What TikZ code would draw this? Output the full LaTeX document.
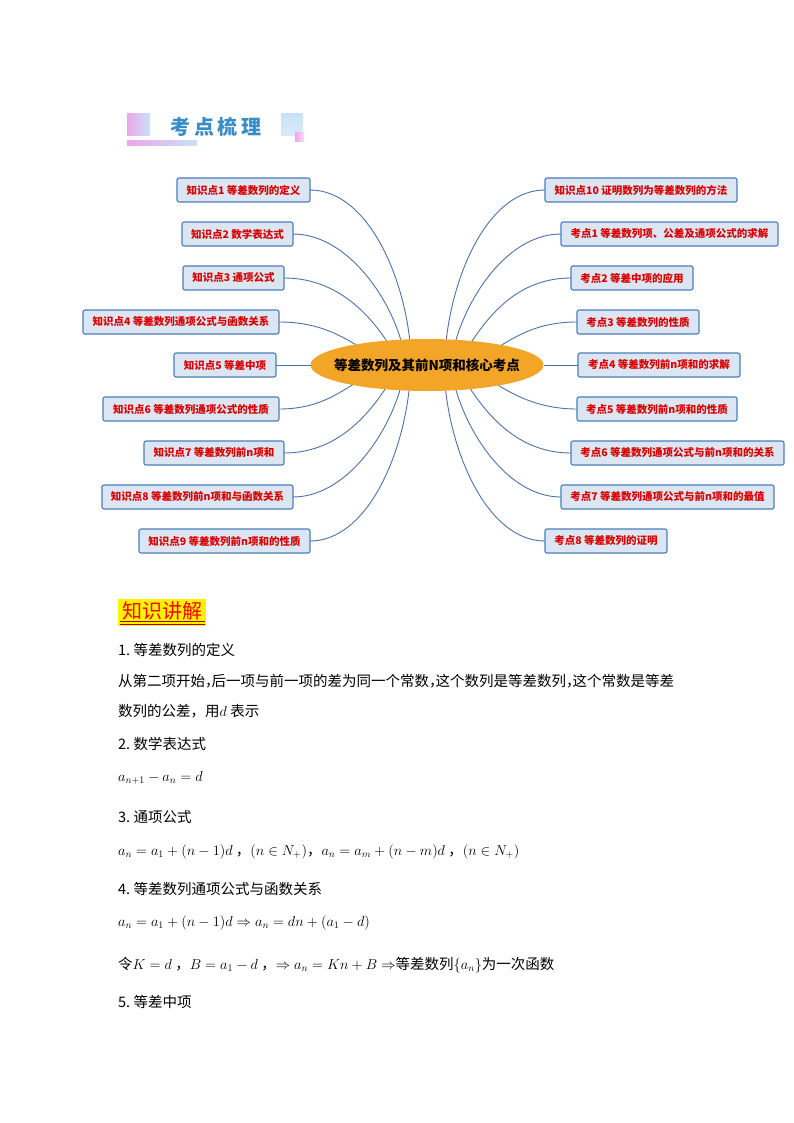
\documentclass[tikz,border=0pt]{standalone}
\usepackage{fontspec}
\newfontfamily\cjk{Noto Sans CJK SC}
\usetikzlibrary{shapes.geometric}
\definecolor{boxfill}{HTML}{DCE6F2}
\definecolor{boxdraw}{HTML}{4A7EBB}
\definecolor{boxtext}{HTML}{D80000}
\definecolor{linkc}{HTML}{4F72A6}
\definecolor{hubc}{HTML}{F3A528}
\definecolor{titleblue}{HTML}{3A8CC8}
\definecolor{pinkc}{HTML}{EDA6E8}
\definecolor{lblue}{HTML}{C8E2F8}
\definecolor{darkred}{HTML}{A00000}
\newcommand\narrowcomma{\makebox[6.5pt][l]{，}}
\begin{document}
\begin{tikzpicture}[x=1pt,y=-1pt,
  topic/.style={draw=boxdraw, line width=1.1pt, fill=boxfill, rounded corners=2pt,
    minimum height=24pt, inner sep=0pt, outer sep=0pt, text=boxtext,
    font=\cjk\bfseries\fontsize{10.5}{12}\selectfont},
  hubnode/.style={ellipse, fill=hubc, minimum width=233pt, minimum height=52pt,
    inner sep=0pt, outer sep=0pt, font=\cjk\bfseries\fontsize{13.5}{15}\selectfont},
  linkst/.style={draw=linkc, line width=0.9pt},
  body/.style={anchor=base west, inner sep=0pt, font=\cjk\fontsize{14.5}{17}\selectfont}
]
\fill[white] (0,0) rectangle (794,1123);
\useasboundingbox (0,0) rectangle (794,1123);

% header decoration
\shade[left color=pinkc, right color=lblue] (127,114) rectangle (150,136);
\shade[left color=pinkc, right color=lblue] (127,141) rectangle (197,146);
\shade[top color=lblue, bottom color=lblue!70!white] (281,114) rectangle (303,136);
\shade[left color=pinkc, right color=pinkc!40!white] (295,133) rectangle (304,142);
\node[text=titleblue, inner sep=0pt, font=\cjk\bfseries\fontsize{20}{22}\selectfont] (title) at (216,126.5) {考\hspace{3.5pt}点\hspace{3.5pt}梳\hspace{3.5pt}理};

% hub
\node[hubnode] (c) at (427,365) {\makebox[0pt]{等差数列及其前N项和核心考点}};

% left topics
\node[topic, minimum width=133pt] (k1) at (243.5,190) {知识点1 等差数列的定义};
\node[topic, minimum width=111pt] (k2) at (237.5,234) {知识点2 数学表达式};
\node[topic, minimum width=101pt] (k3) at (233.5,278) {知识点3 通项公式};
\node[topic, minimum width=196pt] (k4) at (181,322) {知识点4 等差数列通项公式与函数关系};
\node[topic, minimum width=102pt] (k5) at (225,365) {知识点5 等差中项};
\node[topic, minimum width=176pt] (k6) at (191,409) {知识点6 等差数列通项公式的性质};
\node[topic, minimum width=140pt] (k7) at (214,453) {知识点7 等差数列前n项和};
\node[topic, minimum width=191pt] (k8) at (197.5,497) {知识点8 等差数列前n项和与函数关系};
\node[topic, minimum width=171pt] (k9) at (224.5,541) {知识点9 等差数列前n项和的性质};

% right topics
\node[topic, minimum width=192pt] (r1) at (641,190) {知识点10 证明数列为等差数列的方法};
\node[topic, minimum width=217pt] (r2) at (669.5,234) {考点1 等差数列项、公差及通项公式的求解};
\node[topic, minimum width=122pt] (r3) at (632,278) {考点2 等差中项的应用};
\node[topic, minimum width=122pt] (r4) at (638,322) {考点3 等差数列的性质};
\node[topic, minimum width=162pt] (r5) at (659,365) {考点4 等差数列前n项和的求解};
\node[topic, minimum width=160pt] (r6) at (657,409) {考点5 等差数列前n项和的性质};
\node[topic, minimum width=213pt] (r7) at (677.5,453) {考点6 等差数列通项公式与前n项和的关系};
\node[topic, minimum width=213pt] (r8) at (667.5,497) {考点7 等差数列通项公式与前n项和的最值};
\node[topic, minimum width=122pt] (r9) at (606,541) {考点8 等差数列的证明};

% left connectors
\draw[linkst] (k1.east) .. controls +(55,0) and +(-8,-70) .. (c.124.7);
\draw[linkst] (k2.east) .. controls +(50,0) and +(-15,-50) .. (c.136.9);
\draw[linkst] (k3.east) .. controls +(50,0) and +(-20,-30) .. (c.149.3);
\draw[linkst] (k4.east) .. controls +(35,0) and +(-20,-12) .. (c.164.2);
\draw[linkst] (k5.east) -- (c.west);
\draw[linkst] (k6.east) .. controls +(35,0) and +(-20,12) .. (c.195.8);
\draw[linkst] (k7.east) .. controls +(50,0) and +(-20,30) .. (c.210.7);
\draw[linkst] (k8.east) .. controls +(50,0) and +(-15,50) .. (c.223.1);
\draw[linkst] (k9.east) .. controls +(55,0) and +(-8,70) .. (c.235.3);

% right connectors
\draw[linkst] (r1.west) .. controls +(-55,0) and +(8,-70) .. (c.53.5);
\draw[linkst] (r2.west) .. controls +(-50,0) and +(15,-50) .. (c.41);
\draw[linkst] (r3.west) .. controls +(-50,0) and +(20,-30) .. (c.28.7);
\draw[linkst] (r4.west) .. controls +(-35,0) and +(20,-12) .. (c.15.5);
\draw[linkst] (r5.west) -- (c.east);
\draw[linkst] (r6.west) .. controls +(-35,0) and +(20,12) .. (c.344.5);
\draw[linkst] (r7.west) .. controls +(-50,0) and +(20,30) .. (c.331.3);
\draw[linkst] (r8.west) .. controls +(-50,0) and +(15,50) .. (c.319);
\draw[linkst] (r9.west) .. controls +(-55,0) and +(8,70) .. (c.306.5);

% section heading
\fill[yellow] (118,599) rectangle (206,626);
\node[text=red, inner sep=0pt, font=\cjk\fontsize{20}{22}\selectfont] (head) at (162,611) {知识讲解};
\draw[darkred, line width=0.7pt] (120,621.5) -- (205,621.5);
\draw[darkred, line width=0.7pt] (120,624.3) -- (205,624.3);

% body text
\node[body] (t1) at (118,655.5) {1.\ 等差数列的定义};
\node[body] (t2) at (118,686.5) {从第二项开始\narrowcomma 后一项与前一项的差为同一个常数\narrowcomma 这个数列是等差数列\narrowcomma 这个常数是等差};
\node[body] (t3) at (118,716.5) {数列的公差，用$d$\ 表示};
\node[body] (t4) at (118,749.5) {2.\ 数学表达式};
\node[body] (f1) at (118,781) {$a_{n+1}-a_n=d$};
\node[body] (t5) at (118,822.5) {3.\ 通项公式};
\node[body] (f2) at (118,855) {$a_n=a_1+(n-1)d$\ ，$(n\in N_+)$，$a_n=a_m+(n-m)d$\ ，$(n\in N_+)$};
\node[body] (t6) at (118,894.5) {4.\ 等差数列通项公式与函数关系};
\node[body] (f3) at (118,926) {$a_n=a_1+(n-1)d\Rightarrow a_n=dn+(a_1-d)$};
\node[body] (f4) at (118,969) {令$K=d$\ ，$B=a_1-d$\ ，$\Rightarrow a_n=Kn+B\Rightarrow$等差数列$\{a_n\}$为一次函数};
\node[body] (t7) at (118,1007.5) {5.\ 等差中项};
\end{tikzpicture}
\end{document}
